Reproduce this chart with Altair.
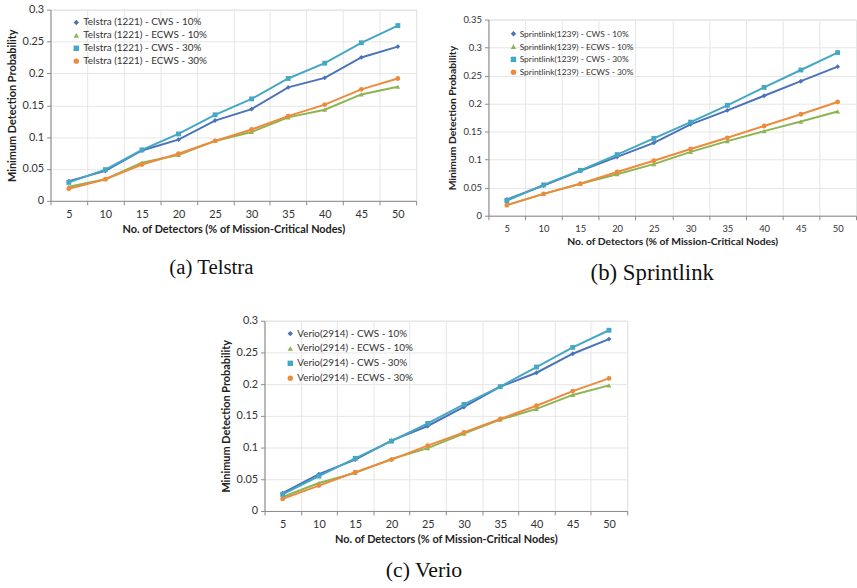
import altair as alt
import pandas as pd

x_vals = [5, 10, 15, 20, 25, 30, 35, 40, 45, 50]

# Telstra
tel_cws10 = [0.031, 0.047, 0.079, 0.096, 0.126, 0.144, 0.178, 0.193, 0.225, 0.242]
tel_ecws10 = [0.022, 0.034, 0.060, 0.072, 0.094, 0.108, 0.131, 0.143, 0.167, 0.179]
tel_cws30 = [0.029, 0.049, 0.080, 0.105, 0.135, 0.160, 0.192, 0.216, 0.248, 0.275]
tel_ecws30 = [0.019, 0.034, 0.057, 0.074, 0.094, 0.112, 0.133, 0.151, 0.175, 0.192]

# Sprintlink
spr_cws10 = [0.029, 0.054, 0.080, 0.105, 0.130, 0.163, 0.188, 0.214, 0.240, 0.266]
spr_ecws10 = [0.019, 0.039, 0.057, 0.074, 0.092, 0.114, 0.133, 0.151, 0.168, 0.186]
spr_cws30 = [0.027, 0.055, 0.081, 0.109, 0.138, 0.167, 0.197, 0.229, 0.260, 0.291]
spr_ecws30 = [0.019, 0.039, 0.057, 0.078, 0.098, 0.119, 0.139, 0.160, 0.181, 0.203]

# Verio
ver_cws10 = [0.028, 0.058, 0.081, 0.111, 0.134, 0.164, 0.196, 0.218, 0.248, 0.271]
ver_ecws10 = [0.022, 0.044, 0.060, 0.082, 0.099, 0.122, 0.144, 0.161, 0.183, 0.198]
ver_cws30 = [0.026, 0.055, 0.083, 0.110, 0.138, 0.168, 0.196, 0.227, 0.258, 0.285]
ver_ecws30 = [0.019, 0.040, 0.061, 0.081, 0.103, 0.124, 0.145, 0.166, 0.189, 0.209]

tel_names = ["Telstra (1221) - CWS - 10%", "Telstra (1221) - ECWS - 10%",
             "Telstra (1221) - CWS - 30%", "Telstra (1221) - ECWS - 30%"]
spr_names = ["Sprintlink(1239) - CWS - 10%", "Sprintlink(1239) - ECWS - 10%",
             "Sprintlink(1239) - CWS - 30%", "Sprintlink(1239) - ECWS - 30%"]
ver_names = ["Verio(2914) - CWS - 10%", "Verio(2914) - ECWS - 10%",
             "Verio(2914) - CWS - 30%", "Verio(2914) - ECWS - 30%"]

colors = ["#4A73B8", "#8DB452", "#44A7C3", "#EE8A3C"]
shapes = ["diamond", "triangle-up", "square", "circle"]

x_title = "No. of Detectors (% of Mission-Critical Nodes)"
y_title = "Minimum Detection Probability"
FONT = "Lato"


def make_df(names, series):
    rows = []
    for n, s in zip(names, series):
        for xv, yv in zip(x_vals, s):
            rows.append({"x": xv, "y": yv, "series": n})
    return pd.DataFrame(rows)


def panel(names, series, ymax, yticks, w, h, caption, cap_size, cap_offset,
          lab_size, leg_size, leg_row, leg_x, leg_y, title_size):
    df = make_df(names, series)
    xenc = alt.X("x:O", sort=x_vals,
                 scale=alt.Scale(paddingInner=0, paddingOuter=0),
                 axis=alt.Axis(title=x_title, labelAngle=0, tickBand="extent",
                               grid=True, gridColor="#e6e6e6", domainColor="#8a8a8a",
                               tickColor="#8a8a8a", tickSize=4, labelPadding=4,
                               labelFont=FONT, labelFontSize=lab_size, labelColor="#333",
                               titleFont=FONT, titleFontSize=title_size, titleFontWeight="bold",
                               titleColor="#222", titlePadding=4))
    yenc = alt.Y("y:Q", scale=alt.Scale(domain=[0, ymax], nice=False, zero=True),
                 axis=alt.Axis(title=y_title, values=yticks, format="~g",
                               grid=True, gridColor="#e6e6e6", domainColor="#8a8a8a",
                               tickColor="#8a8a8a", tickSize=4, labelPadding=3,
                               labelFont=FONT, labelFontSize=lab_size, labelColor="#333",
                               titleFont=FONT, titleFontSize=title_size, titleFontWeight="bold",
                               titleColor="#222", titlePadding=5))
    cscale = alt.Scale(domain=names, range=colors)
    sscale = alt.Scale(domain=names, range=shapes)
    legend = alt.Legend(title=None, orient="none", legendX=leg_x, legendY=leg_y,
                        labelFont=FONT, labelFontSize=leg_size, labelColor="#333",
                        symbolSize=30, rowPadding=leg_row, symbolStrokeWidth=0, labelOffset=2)
    base = alt.Chart(df)
    lines = base.mark_line(strokeWidth=2).encode(
        x=xenc, y=yenc,
        color=alt.Color("series:N", scale=cscale, legend=legend),
        detail="series:N")
    pts = base.mark_point(filled=True, size=24, opacity=1).encode(
        x=xenc, y=yenc,
        color=alt.Color("series:N", scale=cscale, legend=legend),
        shape=alt.Shape("series:N", scale=sscale, legend=legend))
    return alt.layer(lines, pts).properties(
        width=w, height=h,
        title=alt.TitleParams(caption, orient="bottom", font="Liberation Serif",
                              fontSize=cap_size, fontWeight="normal", color="#111",
                              anchor="middle", frame="bounds", offset=cap_offset)
    ).resolve_scale(color="shared", shape="shared")


ticks3 = [0, 0.05, 0.1, 0.15, 0.2, 0.25, 0.3]
ticks35 = [0, 0.05, 0.1, 0.15, 0.2, 0.25, 0.3, 0.35]

pa = panel(tel_names, [tel_cws10, tel_ecws10, tel_cws30, tel_ecws30], 0.3, ticks3,
           369, 193, "(a) Telstra", 21, 23, 11, 10, 3, 21, 8, 11)
pb = panel(spr_names, [spr_cws10, spr_ecws10, spr_cws30, spr_ecws30], 0.35, ticks35,
           371, 198, "(b) Sprintlink", 23, 15, 9.5, 8.5, 4, 21, 10, 10.4)
pc = panel(ver_names, [ver_cws10, ver_ecws10, ver_cws30, ver_ecws30], 0.3, ticks3,
           366, 192, "(c) Verio", 22, 16, 11, 10, 5, 21, 8, 11)


def spacer(w, h):
    return alt.Chart(pd.DataFrame({"v": [0]})).mark_point(opacity=0).properties(width=w, height=h)


def indep(c):
    return c.resolve_scale(color="independent", shape="independent").resolve_legend(
        color="independent", shape="independent")


col_b = indep(alt.vconcat(spacer(10, 1), pb, spacing=0))
row1 = indep(alt.hconcat(pa, col_b, spacing=30))
row2 = indep(alt.hconcat(spacer(170, 10), pc, spacing=0))

chart = indep(alt.vconcat(row1, row2, spacing=28)).properties(
    padding={"left": 5, "top": 0, "right": 0, "bottom": 0}
).configure_view(stroke=None).configure(background="white")

chart.save("out.html", embed_options={"renderer": "svg", "actions": False})
